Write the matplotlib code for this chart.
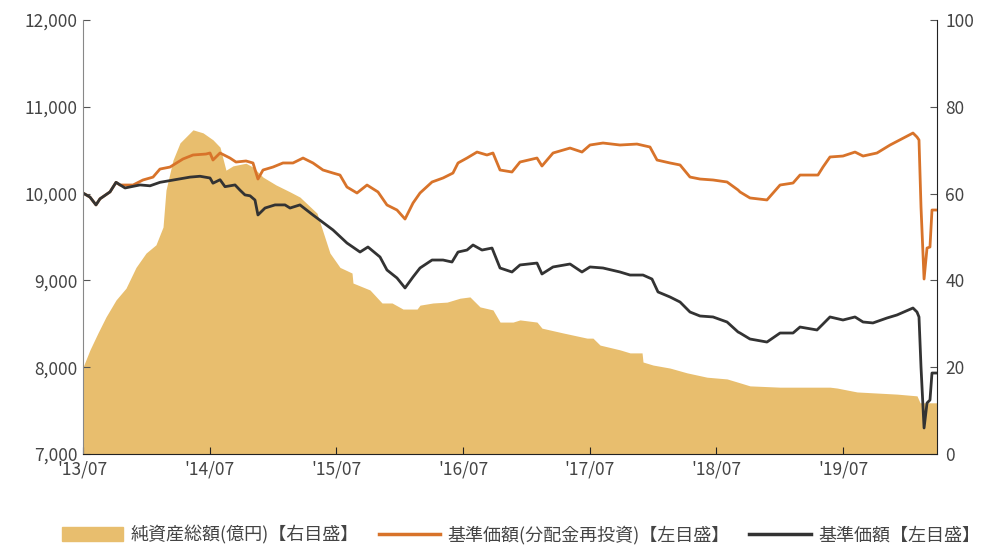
import matplotlib
matplotlib.use("Agg")
import matplotlib.pyplot as plt
from matplotlib.ticker import FuncFormatter, MultipleLocator
from matplotlib.patches import Patch
from matplotlib.lines import Line2D

plt.rcParams['font.family'] = ['Noto Sans CJK JP', 'DejaVu Sans']

# x positions are months since 2013/07
nav_months = [0.0, 0.66, 1.23, 1.61, 2.56, 3.13, 3.98, 5.40, 6.35, 7.29, 8.71, 10.13,
              11.08, 12.03, 12.31, 12.98, 13.45, 14.40, 14.87, 15.34, 15.82, 16.29,
              16.57, 17.24, 18.19, 19.13, 19.61, 20.55, 21.78, 23.68, 25.00, 26.24,
              26.99, 28.13, 28.79, 29.74, 30.50, 31.26, 31.92, 33.06, 34.10, 34.95,
              35.52, 36.37, 36.94, 37.79, 38.74, 39.50, 40.63, 41.39, 43.00, 43.47,
              44.52, 46.13, 47.26, 48.02, 49.25, 50.86, 51.81, 53.04, 53.89, 54.46,
              55.60, 56.55, 57.49, 58.44, 59.67, 61.00, 62.04, 62.23, 63.17, 64.78,
              66.02, 67.25, 67.91, 69.52, 70.00, 70.75, 71.98, 73.12, 73.88, 74.82,
              76.15, 77.10, 78.61, 78.99, 79.18, 79.37, 79.66, 79.94, 80.22, 80.41, 80.89]
nav = [10007, 9960, 9870, 9940, 10020, 10130, 10065, 10100, 10090, 10130, 10160, 10190,
       10200, 10180, 10120, 10160, 10080, 10100, 10040, 9985, 9975, 9926,
       9754, 9834, 9870, 9870, 9834, 9870, 9754, 9581, 9431, 9327,
       9385, 9270, 9120, 9028, 8913, 9040, 9143, 9235, 9235, 9212,
       9327, 9350, 9408, 9350, 9373, 9143, 9097, 9178, 9200, 9074,
       9155, 9189, 9097, 9155, 9143, 9097, 9062, 9062, 9016, 8867,
       8809, 8751, 8636, 8590, 8579, 8521, 8406, 8394, 8325, 8290,
       8394, 8394, 8463, 8429, 8487, 8579, 8544, 8579, 8521, 8510,
       8567, 8602, 8682, 8636, 8579, 8003, 7300, 7588, 7622, 7933, 7933]

reinv_months = [0.0, 0.66, 1.23, 1.61, 2.56, 3.13, 3.50, 4.74, 5.68, 6.63, 7.29, 8.24,
                9.47, 10.42, 11.65, 12.03, 12.31, 12.98, 13.92, 14.49, 15.44, 16.10,
                16.57, 17.05, 17.99, 18.94, 19.89, 20.84, 21.78, 22.73, 23.68, 24.34,
                25.00, 25.95, 26.90, 27.94, 28.79, 29.74, 30.50, 31.26, 31.92, 33.06,
                34.10, 35.04, 35.52, 36.37, 37.32, 38.26, 38.83, 39.50, 40.63, 41.39,
                43.00, 43.47, 44.52, 46.13, 47.26, 48.02, 49.25, 50.86, 52.47, 53.70,
                54.37, 55.60, 56.55, 57.49, 58.44, 59.67, 61.00, 62.04, 62.23, 63.17,
                64.78, 66.02, 67.25, 67.91, 69.61, 70.09, 70.75, 71.98, 73.12, 73.88,
                75.20, 76.44, 78.61, 78.99, 79.18, 79.37, 79.66, 79.94, 80.22, 80.41, 80.89]
reinv = [10007, 9960, 9870, 9940, 10020, 10130, 10099, 10099, 10157, 10190, 10283, 10306,
         10399, 10445, 10456, 10468, 10387, 10468, 10410, 10364, 10376, 10353,
         10168, 10272, 10306, 10353, 10353, 10410, 10353, 10272, 10237, 10214,
         10076, 10007, 10099, 10019, 9869, 9811, 9707, 9892, 10007, 10134,
         10180, 10237, 10353, 10410, 10479, 10445, 10468, 10272, 10249, 10364,
         10410, 10318, 10468, 10525, 10479, 10560, 10583, 10560, 10571, 10537,
         10387, 10353, 10330, 10191, 10168, 10157, 10134, 10042, 10019, 9950,
         9927, 10099, 10122, 10214, 10214, 10307, 10422, 10433, 10479, 10433,
         10468, 10560, 10698, 10652, 10618, 9846, 9016, 9373, 9385, 9811, 9811]

asset_months = [0.0, 0.66, 1.42, 2.18, 3.13, 4.07, 5.02, 5.97, 6.91, 7.58, 7.86, 8.52,
                9.19, 10.42, 11.37, 12.31, 12.98, 13.54, 14.21, 15.44, 16.10, 17.05,
                18.28, 19.61, 20.55, 22.16, 23.39, 24.34, 25.48, 25.57, 27.18, 28.32,
                29.27, 30.31, 31.64, 31.92, 33.15, 34.48, 35.71, 36.65, 37.60, 38.83,
                39.50, 40.73, 41.39, 43.00, 43.47, 45.46, 47.74, 48.30, 48.97, 50.86,
                51.81, 52.95, 53.04, 53.99, 55.60, 57.21, 59.10, 61.00, 62.23, 63.17,
                66.02, 70.75, 71.42, 73.31, 77.10, 78.99, 79.28, 80.89]
assets = [20.0, 24.0, 27.9, 31.6, 35.5, 38.2, 43.0, 46.3, 48.2, 52.3, 60.8, 67.7,
          71.7, 74.7, 74.0, 72.4, 70.7, 65.4, 66.4, 67.0, 66.1, 63.8,
          62.0, 60.4, 59.2, 55.5, 46.3, 43.0, 41.7, 39.4, 37.8, 34.8,
          34.8, 33.4, 33.4, 34.3, 34.8, 35.0, 35.9, 36.2, 33.9, 33.2,
          30.4, 30.4, 30.9, 30.4, 29.0, 27.9, 26.7, 26.7, 25.1, 24.0,
          23.3, 23.3, 21.2, 20.5, 19.8, 18.7, 17.7, 17.3, 16.4, 15.7,
          15.4, 15.4, 15.2, 14.3, 13.8, 13.4, 11.8, 11.8]

tick_months = [0, 12, 24, 36, 48, 60, 72]
tick_labels = ["'13/07", "'14/07", "'15/07", "'16/07", "'17/07", "'18/07", "'19/07"]

c_area = "#E8BE6E"
c_orange = "#D8732A"
c_black = "#333333"
c_text = "#444444"

fig = plt.figure(figsize=(9.81, 5.47), dpi=100)
ax = fig.add_axes([0.0846, 0.170, 0.8706, 0.7934])
ax2 = ax.twinx()

# area on right axis, drawn behind the lines
ax2.fill_between(asset_months, assets, 0, color=c_area, linewidth=0)
ax2.set_ylim(0, 100)
ax2.yaxis.set_major_locator(MultipleLocator(20))

ax.set_zorder(ax2.get_zorder() + 1)
ax.patch.set_visible(False)
ax.plot(reinv_months, reinv, color=c_orange, linewidth=2.0)
ax.plot(nav_months, nav, color=c_black, linewidth=2.0)
ax.set_ylim(7000, 12000)
ax.set_xlim(0, 80.89)
ax.yaxis.set_major_locator(MultipleLocator(1000))
ax.yaxis.set_major_formatter(FuncFormatter(lambda v, p: f"{int(v):,}"))
ax.set_xticks(tick_months)
ax.set_xticklabels(tick_labels)

for a in (ax, ax2):
    a.spines['top'].set_visible(False)
    a.tick_params(direction='in', length=5, width=0.8, colors="#555555",
                  labelcolor=c_text, labelsize=12.5)
ax.tick_params(axis='y', pad=4)
ax.tick_params(axis='x', pad=5, colors="#222222", labelcolor=c_text)
ax.spines['left'].set_color("#888888")
ax.spines['bottom'].set_color("#222222")
ax.spines['right'].set_visible(False)
ax2.spines['left'].set_visible(False)
ax2.spines['bottom'].set_visible(False)
ax2.spines['right'].set_color("#222222")
ax2.tick_params(axis='y', pad=6)

handles = [Patch(color=c_area),
           Line2D([], [], color=c_orange, linewidth=2.5),
           Line2D([], [], color=c_black, linewidth=2.5)]
labels = ["純資産総額(億円)【右目盛】", "基準価額(分配金再投資)【左目盛】", "基準価額【左目盛】"]
fig.legend(handles, labels, loc='center', bbox_to_anchor=(0.531, 0.022), ncol=3,
           frameon=False, fontsize=13, labelcolor=c_text, handlelength=3.4,
           handleheight=0.8, columnspacing=1.1, handletextpad=0.4)

fig.savefig("out.png", dpi=100)
